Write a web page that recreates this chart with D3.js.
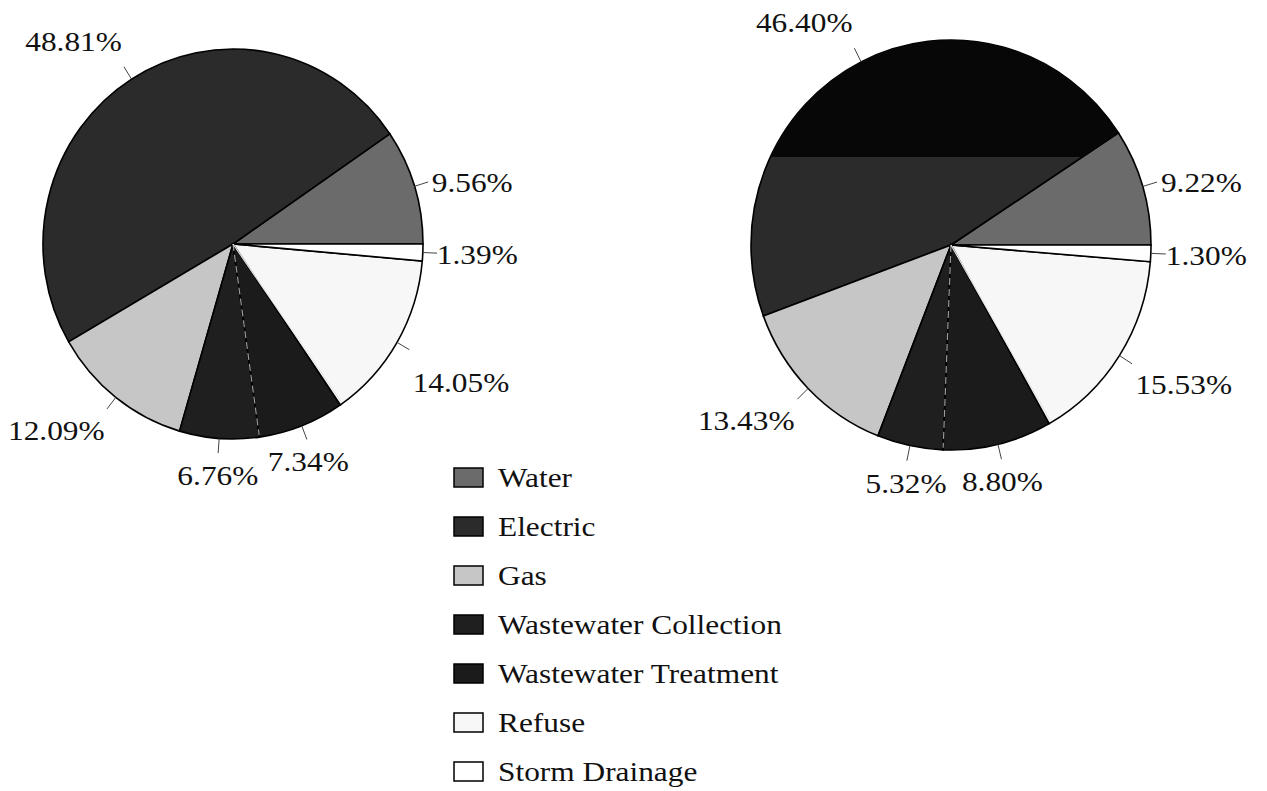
<!DOCTYPE html>
<html>
<head>
<meta charset="utf-8">
<script src="https://cdn.jsdelivr.net/npm/d3@7"></script>
<style>
  html, body { margin: 0; padding: 0; background: #fff; }
  svg { display: block; }
  text { font-family: "Liberation Serif", "Times New Roman", serif; fill: #111; }
</style>
</head>
<body>
<svg id="chart" width="1267" height="791"></svg>
<script>
// ---- data ----
const categories = ["Water", "Electric", "Gas", "Wastewater Collection", "Wastewater Treatment", "Refuse", "Storm Drainage"];
const leftValues  = [9.56, 48.81, 12.09, 6.76, 7.34, 14.05, 1.39];
const rightValues = [9.22, 46.40, 13.43, 5.32, 8.80, 15.53, 1.30];
const leftLabels  = ["9.56%", "48.81%", "12.09%", "6.76%", "7.34%", "14.05%", "1.39%"];
const rightLabels = ["9.22%", "46.40%", "13.43%", "5.32%", "8.80%", "15.53%", "1.30%"];

// ---- styles ----
const fills = {
  "Water": "#6b6b6b",
  "Electric": "#2b2b2b",
  "Gas": "#c6c6c6",
  "Wastewater Collection": "#1f1f1f",
  "Wastewater Treatment": "#1b1b1b",
  "Refuse": "#f7f7f7",
  "Storm Drainage": "#ffffff"
};
const color = d3.scaleOrdinal().domain(categories).range(categories.map(c => fills[c]));

const svg = d3.select("#chart");
const FS = 28, SX = 1.12;

function drawPie(opts) {
  const { cx, cy, rx, ry, values, labels, nudges, darkBand } = opts;
  const pie = d3.pie().sort(null).value(d => d.v)
    .startAngle(Math.PI / 2).endAngle(Math.PI / 2 - 2 * Math.PI);
  const data = pie(categories.map((c, i) => ({ c, v: values[i], label: labels[i], i })));
  const arc = d3.arc().innerRadius(0).outerRadius(rx);
  const k = ry / rx;

  const g = svg.append("g").attr("transform", `translate(${cx},${cy}) scale(1,${k})`);
  g.selectAll("path.slice").data(data).join("path")
    .attr("class", "slice")
    .attr("d", arc)
    .attr("fill", d => color(d.data.c))
    .attr("stroke", "#000")
    .attr("stroke-width", 1.6)
    .attr("vector-effect", "non-scaling-stroke");

  // scan darkening of upper part of the large slice (visual only)
  if (darkBand) {
    const elec = data.find(d => d.data.c === "Electric");
    const id = "clip" + Math.round(cx);
    g.append("clipPath").attr("id", id).append("path").attr("d", arc(elec));
    g.append("rect")
      .attr("x", -rx).attr("y", -rx)
      .attr("width", 2 * rx).attr("height", (darkBand - cy) / k + rx)
      .attr("fill", "#070707")
      .attr("clip-path", `url(#${id})`);
  }

  // light dashed boundary between the two wastewater slices
  const wwc = data.find(d => d.data.c === "Wastewater Collection");
  const a = wwc.endAngle;
  g.append("line")
    .attr("x1", 0).attr("y1", 0)
    .attr("x2", rx * Math.sin(a) * 0.99).attr("y2", -rx * Math.cos(a) * 0.99)
    .attr("stroke", "#9a9a9a").attr("stroke-width", 1.2)
    .attr("stroke-dasharray", "7,4")
    .attr("vector-effect", "non-scaling-stroke");
  // white seam between treatment and refuse
  const wwt = data.find(d => d.data.c === "Wastewater Treatment");
  const b = wwt.endAngle - 0.012;
  g.append("line")
    .attr("x1", 0).attr("y1", 0)
    .attr("x2", rx * Math.sin(b) * 0.99).attr("y2", -rx * Math.cos(b) * 0.99)
    .attr("stroke", "#e8e8e8").attr("stroke-width", 1.2)
    .attr("vector-effect", "non-scaling-stroke");

  // labels and leader lines
  const lg = svg.append("g");
  data.forEach((d, i) => {
    const mid = (d.startAngle + d.endAngle) / 2;
    const s = Math.sin(mid), c = -Math.cos(mid); // s: x-dir, c: y-dir(down)
    const px = t => cx + t * rx * s;
    const py = t => cy + t * ry * c;
    lg.append("line")
      .attr("x1", px(1.0)).attr("y1", py(1.0))
      .attr("x2", px(1.075)).attr("y2", py(1.075))
      .attr("stroke", "#444").attr("stroke-width", 1);
    const nx = px(1.095), ny = py(1.095);
    const up = -c; // positive when upper half
    let anchor = "middle";
    if (s > 0.4) anchor = "start"; else if (s < -0.4) anchor = "end";
    let dy = 11;
    if (up > 0.3) dy = -12; else if (up < -0.3) dy = 28;
    const n = nudges[i] || [0, 0];
    lg.append("text")
      .attr("transform", `translate(${nx + n[0]},${ny + dy + n[1]}) scale(${SX},1)`)
      .attr("text-anchor", anchor)
      .attr("font-size", FS)
      .text(d.data.label);
  });
}

drawPie({ cx: 233, cy: 244, rx: 190, ry: 195, values: leftValues, labels: leftLabels,
  nudges: [[0, 0], [0, 0], [0, 0], [0, 0], [0, 0], [0, 12], [-4, 0]] });
drawPie({ cx: 951, cy: 245, rx: 200, ry: 205, values: rightValues, labels: rightLabels,
  nudges: [[0, 0], [0, 0], [0, 0], [0, 0], [0, 0], [0, 0], [-4, 0]], darkBand: 157 });

// ---- legend ----
const legend = svg.append("g");
const rowY = d3.scalePoint().domain(categories).range([477, 771]);
categories.forEach(c => {
  const y = rowY(c);
  legend.append("rect")
    .attr("x", 454).attr("y", y - 9).attr("width", 29).attr("height", 19)
    .attr("fill", color(c)).attr("stroke", "#000").attr("stroke-width", 1.5);
  legend.append("text")
    .attr("transform", `translate(498,${y + 10}) scale(${SX},1)`)
    .attr("font-size", FS)
    .text(c);
});
</script>
</body>
</html>
